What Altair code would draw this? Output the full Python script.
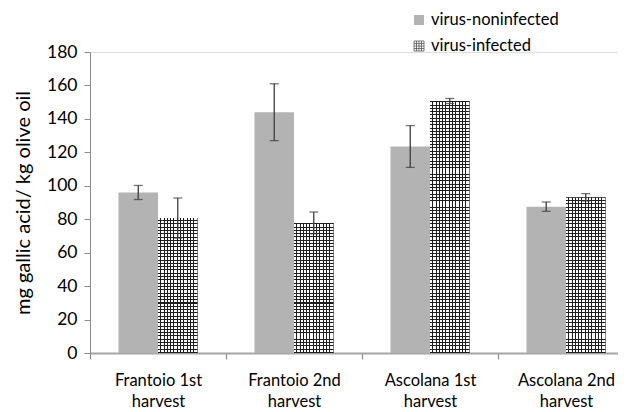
import altair as alt
import pandas as pd

categories = ["Frantoio 1st harvest", "Frantoio 2nd harvest", "Ascolana 1st harvest", "Ascolana 2nd harvest"]
series = ["virus-noninfected", "virus-infected"]
noninfected = [96.0, 144.0, 123.5, 87.5]
noninfected_err = [4.2, 17.0, 12.5, 2.8]
infected = [80.7, 77.8, 150.7, 93.1]
infected_err = [12.0, 6.5, 1.5, 2.2]
y_ticks = [0, 20, 40, 60, 80, 100, 120, 140, 160, 180]

rows = []
for i, c in enumerate(categories):
    rows.append(dict(cat=c, series=series[0], value=noninfected[i],
                     lo=noninfected[i] - noninfected_err[i], hi=noninfected[i] + noninfected_err[i]))
    rows.append(dict(cat=c, series=series[1], value=infected[i],
                     lo=infected[i] - infected_err[i], hi=infected[i] + infected_err[i]))
df = pd.DataFrame(rows)

FONT = "Lato"
PLOT_W = 544
PLOT_H = 301
YMAX = 180
OFF_PAD = 0.72
BAR_W = (PLOT_W / len(categories)) / (2 + 2 * OFF_PAD)
PERIOD = 3.3
LINE = 1.0
DARK = "#1e1e1e"
CLEAR = "rgba(0,0,0,0)"


def stripe_stops(length, base):
    pairs = []
    pos = 0.0
    while pos < length:
        a = max(0.0, min(1.0, 1 - (pos + LINE) / length))
        b = max(0.0, min(1.0, 1 - pos / length))
        pairs.append((a, b))
        pos += PERIOD
    pairs.sort()
    out = [{"offset": 0, "color": base}]
    for a, b in pairs:
        out += [{"offset": a, "color": base}, {"offset": a, "color": DARK},
                {"offset": b, "color": DARK}, {"offset": b, "color": base}]
    out.append({"offset": 1, "color": base})
    return out


def gradient(length, base, vertical):
    return {"gradient": "linear", "x1": 0, "y1": 0, "x2": 0 if vertical else 1,
            "y2": 1 if vertical else 0, "stops": stripe_stops(length, base)}


y_axis = alt.Axis(values=y_ticks, grid=False, domainColor="#8a8a8a", domainWidth=1,
                  tickColor="#8a8a8a", tickSize=6, labelFont=FONT, labelFontSize=17.5,
                  labelColor="#000", labelPadding=7, title="mg gallic acid/ kg olive oil",
                  titleFont=FONT, titleFontSize=20, titleFontWeight="normal",
                  titleColor="#000", titlePadding=13)
y_scale = alt.Scale(domain=[0, YMAX], nice=False)
x_enc = alt.X("cat:N", sort=categories,
              scale=alt.Scale(paddingInner=0, paddingOuter=0),
              axis=alt.Axis(title=None, labelAngle=0, tickBand="extent", domainColor="#a6a6a6",
                            domainWidth=2, tickColor="#8a8a8a", tickSize=6, tickWidth=1.2,
                            labelFont=FONT, labelFontSize=16.5, labelColor="#000",
                            labelLineHeight=21, labelPadding=13,
                            labelExpr="datum.label ? [replace(datum.label, ' harvest', ''), 'harvest'] : ''"))
xoff = alt.XOffset("series:N", sort=series, scale=alt.Scale(paddingInner=0, paddingOuter=OFF_PAD))

base = alt.Chart(df).encode(x=x_enc, xOffset=xoff)

gray = base.transform_filter(alt.datum.series == series[0]).mark_bar(color="#b3b3b3").encode(
    y=alt.Y("value:Q", scale=y_scale, axis=y_axis))
inf_v = base.transform_filter(alt.datum.series == series[1]).mark_bar(
    color=gradient(BAR_W, "#ffffff", False)).encode(y=alt.Y("value:Q", scale=y_scale, axis=y_axis))

layers = [gray, inf_v]
for i, c in enumerate(categories):
    h = infected[i] * PLOT_H / YMAX
    layers.append(base.transform_filter((alt.datum.series == series[1]) & (alt.datum.cat == c))
                  .mark_bar(color=gradient(h, CLEAR, True))
                  .encode(y=alt.Y("value:Q", scale=y_scale, axis=y_axis)))

err_color = "#3c3c3c"
rule = base.mark_rule(color=err_color, strokeWidth=1.3).encode(
    y=alt.Y("lo:Q", scale=y_scale, axis=y_axis), y2="hi:Q")
cap_lo = base.mark_tick(color=err_color, thickness=1.3, size=9).encode(
    y=alt.Y("lo:Q", scale=y_scale, axis=y_axis))
cap_hi = base.mark_tick(color=err_color, thickness=1.3, size=9).encode(
    y=alt.Y("hi:Q", scale=y_scale, axis=y_axis))
layers += [rule, cap_lo, cap_hi]

leg_df = pd.DataFrame({"series": series})
leg1 = alt.Chart(leg_df).transform_filter(alt.datum.series == series[0])
leg2 = alt.Chart(leg_df).transform_filter(alt.datum.series == series[1])
grid_path = ("M-1,-1H1V1H-1Z M-1,-0.5H1 M-1,0H1 M-1,0.5H1 "
             "M-0.5,-1V1 M0,-1V1 M0.5,-1V1")
layers += [
    leg1.mark_square(color="#b3b3b3", size=100, opacity=1).encode(
        x=alt.value(329), y=alt.value(-32)),
    leg1.mark_text(align="left", baseline="middle", font=FONT, fontSize=16.5, color="#000").encode(
        x=alt.value(341), y=alt.value(-32), text="series:N"),
    leg2.mark_point(shape=grid_path, filled=False, stroke="#555", strokeWidth=0.8, size=100,
                    opacity=1).encode(x=alt.value(329), y=alt.value(-6)),
    leg2.mark_text(align="left", baseline="middle", font=FONT, fontSize=16.5, color="#000").encode(
        x=alt.value(341), y=alt.value(-6), text="series:N"),
]

chart = alt.layer(*layers).properties(
    width=PLOT_W, height=PLOT_H,
    autosize=alt.AutoSizeParams(type="none"),
    padding={"left": 82, "top": 44, "right": -16, "bottom": 59},
).configure_view(strokeWidth=0).configure(font=FONT, background="#ffffff")

chart.save("out.html", embed_options={"renderer": "svg", "actions": False})
